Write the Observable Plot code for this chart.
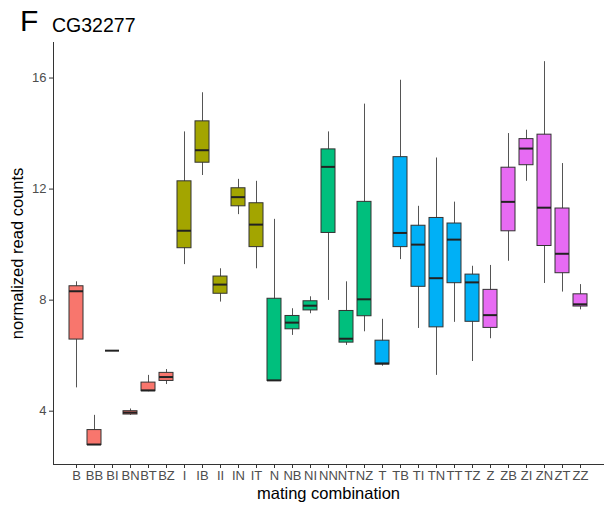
<!DOCTYPE html>
<html>
<head>
<meta charset="utf-8">
<script src="https://cdn.jsdelivr.net/npm/d3@7"></script>
<script src="https://cdn.jsdelivr.net/npm/@observablehq/plot@0.6"></script>
<style>
  html, body { margin: 0; padding: 0; background: #fff; }
  #wrap { width: 609px; font-family: Arial, "Liberation Sans", sans-serif; }
  #head { position: relative; height: 40px; }
  #panel { position: absolute; left: 20px; top: 4px; font-size: 30px; color: #000; }
  #gene { position: absolute; left: 52px; top: 14px; font-size: 19.5px; color: #000; }
  svg g[aria-label="x-axis tick label"] text,
  svg g[aria-label="y-axis tick label"] text { fill: #4d4d4d; font-size: 13px; }
  svg g[aria-label="x-axis label"] text,
  svg g[aria-label="y-axis label"] text { font-size: 16.5px; fill: #000; }
</style>
</head>
<body>
<div id="wrap">
  <div id="head"><span id="panel">F</span><span id="gene">CG32277</span></div>
  <div id="chart"></div>
</div>
<script>
// Mating combinations, in axis order
const categories = ["B","BB","BI","BN","BT","BZ","I","IB","II","IN","IT","N","NB","NI","NN","NT","NZ","T","TB","TI","TN","TT","TZ","Z","ZB","ZI","ZN","ZT","ZZ"];

// Box-plot summaries of normalized read counts per combination
const whiskerLow  = [4.84, 2.77, 6.18, 3.85, 4.70, 4.96, 9.28, 12.49, 7.93, 11.08, 9.13, 5.09, 6.73, 7.51, 7.99, 6.37, 6.86, 5.62, 9.46, 6.98, 5.29, 7.20, 5.79, 6.61, 9.40, 12.28, 8.60, 8.29, 7.65];
const quartile1   = [6.58, 2.78, 6.18, 3.88, 4.72, 5.09, 9.87, 12.95, 8.23, 11.38, 9.91, 5.09, 6.95, 7.63, 10.42, 6.47, 7.42, 5.68, 9.91, 8.48, 7.02, 8.61, 7.22, 7.00, 10.48, 12.86, 9.95, 8.97, 7.77];
const medianVal   = [8.32, 2.80, 6.18, 3.95, 4.75, 5.23, 10.50, 13.40, 8.56, 11.71, 10.72, 5.11, 7.19, 7.80, 12.80, 6.61, 8.03, 5.72, 10.42, 10.00, 8.79, 10.18, 8.64, 7.46, 11.54, 13.46, 11.33, 9.67, 7.85];
const quartile3   = [8.50, 3.32, 6.18, 4.00, 5.03, 5.38, 12.28, 14.44, 8.85, 12.03, 11.49, 8.05, 7.43, 7.96, 13.43, 7.61, 11.54, 6.54, 13.15, 10.68, 10.96, 10.76, 8.92, 8.37, 12.77, 13.80, 13.96, 11.30, 8.21];
const whiskerHigh = [8.66, 3.85, 6.18, 4.08, 5.29, 5.50, 14.06, 15.47, 9.13, 12.35, 12.28, 10.91, 7.69, 8.12, 14.06, 8.66, 15.06, 7.31, 15.92, 11.38, 13.12, 11.53, 9.22, 9.25, 14.00, 14.12, 16.59, 12.92, 8.56];

// Female strain (first letter) sets the fill
const groups = ["B","I","N","T","Z"];
const groupColors = ["#F8766D","#A3A500","#00BF7D","#00B0F6","#E76BF3"];

const rows = categories.map((c, i) => ({
  cat: c,
  group: c[0],
  lo: whiskerLow[i],
  q1: quartile1[i],
  med: medianVal[i],
  q3: quartile3[i],
  hi: whiskerHigh[i]
}));

const chart = Plot.plot({
  width: 609,
  height: 472,
  marginTop: 2,
  marginBottom: 48,
  marginLeft: 53,
  marginRight: 6,
  style: { fontFamily: "Arial, 'Liberation Sans', sans-serif", fontSize: "13px", background: "#fff" },
  x: { type: "band", domain: categories, paddingInner: 0.25, paddingOuter: 0.225 },
  y: { domain: [2.08, 17.28] },
  color: { domain: groups, range: groupColors },
  marks: [
    Plot.frame({ anchor: "left", stroke: "#333" }),
    Plot.frame({ anchor: "bottom", stroke: "#333" }),
    Plot.axisY({ ticks: [4, 8, 12, 16], tickSize: 4, tickPadding: 3, stroke: "#333",
                 label: "normalized read counts", labelAnchor: "center", labelOffset: 42, labelArrow: "none" }),
    Plot.axisX({ tickSize: 4, tickPadding: 2, stroke: "#333",
                 label: "mating combination", labelAnchor: "center", labelOffset: 34, labelArrow: "none" }),
    Plot.ruleX(rows, { x: "cat", y1: "lo", y2: "hi", stroke: "#555", strokeWidth: 1 }),
    Plot.barY(rows, { x: "cat", y1: "q1", y2: "q3", fill: "group", stroke: "#333", strokeWidth: 1 }),
    Plot.tickY(rows, { x: "cat", y: "med", stroke: "#222", strokeWidth: 2 })
  ]
});

document.getElementById("chart").appendChild(chart);
</script>
</body>
</html>
